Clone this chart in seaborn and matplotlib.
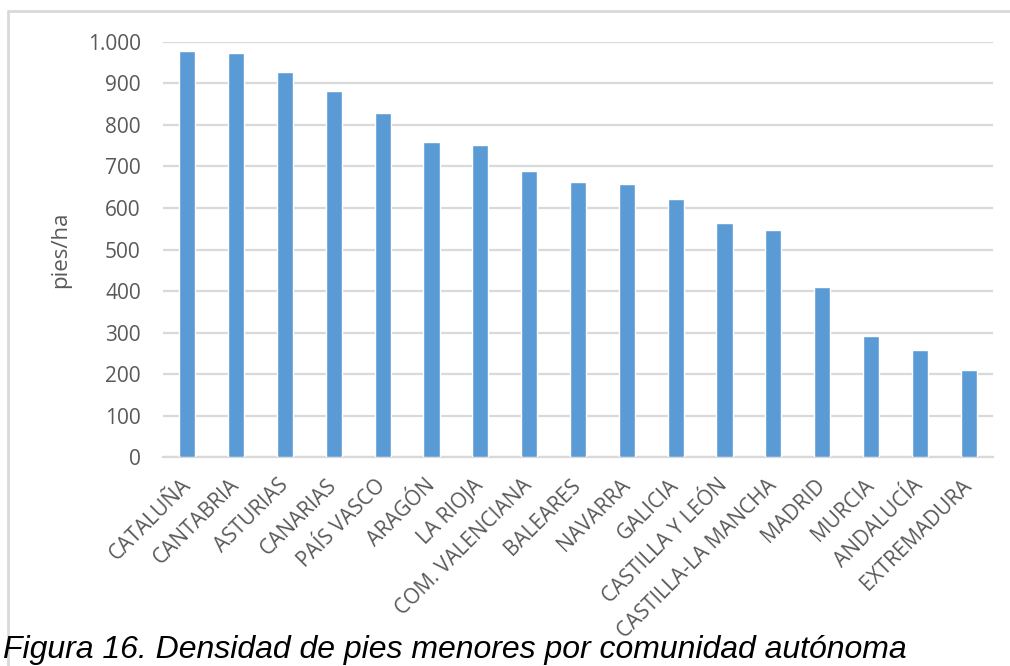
import matplotlib
matplotlib.use("Agg")
import matplotlib.pyplot as plt
from matplotlib.lines import Line2D
from matplotlib.ticker import FuncFormatter, MultipleLocator
import pandas as pd
import seaborn as sns

# Density of small trees (pies menores) per autonomous community
comunidades = [
    "CATALUÑA", "CANTABRIA", "ASTURIAS", "CANARIAS", "PAÍS VASCO", "ARAGÓN",
    "LA RIOJA", "COM. VALENCIANA", "BALEARES", "NAVARRA", "GALICIA",
    "CASTILLA Y LEÓN", "CASTILLA-LA MANCHA", "MADRID", "MURCIA",
    "ANDALUCÍA", "EXTREMADURA",
]
densidad = [977, 972, 928, 881, 829, 759, 751, 690, 662, 657, 621,
            564, 546, 409, 292, 258, 210]

y_label = "pies/ha"
caption = "Figura 16. Densidad de pies menores por comunidad autónoma"

df = pd.DataFrame({"comunidad": comunidades, "densidad": densidad})

sns.set_theme(style="white")
plt.rcParams["font.family"] = ["Open Sans", "DejaVu Sans"]

W, H = 1010, 666
fig = plt.figure(figsize=(W / 100, H / 100), dpi=100)
fig.patch.set_facecolor("white")

ax = fig.add_axes([163 / W, 1 - 457.3 / H, 830 / W, 415.6 / H])

sns.barplot(data=df, x="comunidad", y="densidad", color="#5B9BD5",
            width=0.33, saturation=1, ax=ax, zorder=3)

ax.set_xlim(-0.5, len(comunidades) - 0.5)
ax.set_ylim(0, 1000)
ax.yaxis.set_major_locator(MultipleLocator(100))
ax.yaxis.set_major_formatter(
    FuncFormatter(lambda v, _: f"{int(v):,}".replace(",", ".")))

grid_col = "#d9d9d9"
ax.grid(axis="y", color=grid_col, linewidth=1.6, zorder=0)
ax.grid(axis="x", visible=False)
for side in ("top", "right", "left"):
    ax.spines[side].set_visible(False)
ax.spines["bottom"].set_color(grid_col)
ax.spines["bottom"].set_linewidth(1.6)
ax.spines["bottom"].set_zorder(1)

text_col = "#595959"
ax.tick_params(axis="both", length=0, colors=text_col)
ax.tick_params(axis="y", labelsize=15, pad=16)
ax.tick_params(axis="x", labelsize=15, pad=18)
for lbl in ax.get_xticklabels():
    lbl.set_rotation(45)
    lbl.set_ha("right")
    lbl.set_va("center")
    lbl.set_rotation_mode("anchor")

ax.set_xlabel("")
ax.set_ylabel(y_label, fontsize=16, color=text_col, labelpad=12)

# light frame around the chart area
frame_kw = dict(color=grid_col, linewidth=2.0, transform=fig.transFigure)
fig.add_artist(Line2D([8 / W, 1.0], [1 - 11 / H, 1 - 11 / H], **frame_kw))
fig.add_artist(Line2D([8 / W, 8 / W], [0.0, 1 - 11 / H], **frame_kw))

fig.text(3 / W, 1 - 658 / H, caption, fontsize=23, style="italic",
         family=["Liberation Sans", "DejaVu Sans"], color="black",
         ha="left", va="baseline")

fig.savefig("out.png", dpi=100, facecolor="white")
